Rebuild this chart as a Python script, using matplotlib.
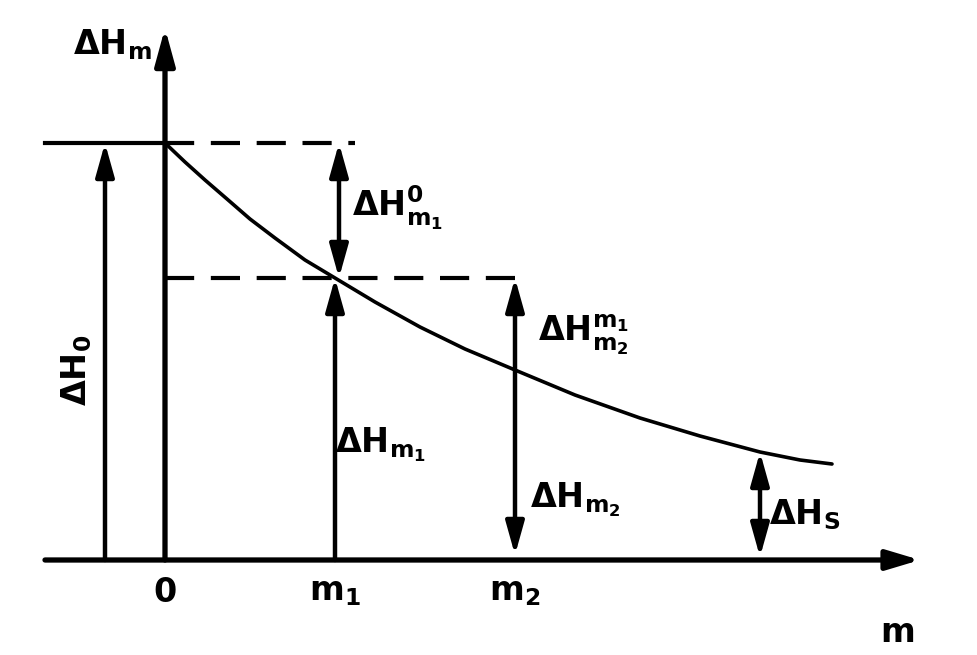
import matplotlib
matplotlib.use("Agg")
import matplotlib.pyplot as plt

# ---- data (relative units: origin at the axes crossing) ----
m_labels = ['0', r'$\mathbf{m_1}$', r'$\mathbf{m_2}$']
m_positions = [0, 170, 350]
s_position = 595
dH0 = 417
dHm1 = 282
dHm2 = 190
dHs = 108
curve_m = [0, 20, 40, 62, 85, 110, 140, 170, 210, 255, 300, 350, 410, 475, 535, 595, 635, 667]
curve_dH = [417, 398, 380, 361, 341, 322, 300, 282, 258, 233, 211, 190, 165, 142, 124, 108, 100, 96]

plt.rcParams['lines.scale_dashes'] = False
plt.rcParams['mathtext.fontset'] = 'dejavusans'

fig = plt.figure(figsize=(9.77, 6.55), dpi=100)
ax = fig.add_axes([0, 0, 1, 1])
ax.set_xlim(-165, 812)
ax.set_ylim(-95, 560)
ax.axis('off')

K = 'black'

def arrow(x0, y0, x1, y1, style='-|>', lw=3.2, hl=1.0, hw=0.28):
    ax.annotate('', xy=(x1, y1), xytext=(x0, y0),
                arrowprops=dict(arrowstyle=f'{style},head_length={hl},head_width={hw}',
                                lw=lw, color=K, shrinkA=0, shrinkB=0,
                                mutation_scale=20))

# axes
arrow(-120, 0, 755, 0, lw=3.8, hl=1.0, hw=0.3)
arrow(0, 0, 0, 532, lw=3.8, hl=1.1, hw=0.3)

# horizontal reference lines
ax.plot([-120, 0], [dH0, dH0], color=K, lw=3)
ax.plot([0, 190], [dH0, dH0], color=K, lw=3, dashes=(21, 12))
ax.plot([0, m_positions[2]], [dHm1, dHm1], color=K, lw=3, dashes=(21, 12))

# curve
ax.plot(curve_m, curve_dH, color=K, lw=2.6, solid_joinstyle='round',
        solid_capstyle='round')

# vertical dimension arrows
arrow(-60, 0, -60, dH0)
arrow(m_positions[1] + 4, dHm1, m_positions[1] + 4, dH0, style='<|-|>')
arrow(m_positions[1], 0, m_positions[1], dHm1)
arrow(m_positions[2], 5, m_positions[2], dHm1, style='<|-|>')
arrow(s_position, dHs, s_position, 3, style='<|-|>')

fs = 24
tk = dict(color=K, ha='center', va='center', fontsize=fs)
ax.text(-53, 515, r'$\mathbf{\Delta H_{m}}$', **tk)
ax.text(-88, 190, r'$\mathbf{\Delta H_{0}}$', rotation=90, **tk)
ax.text(232, 352, r'$\mathbf{\Delta H_{m_1}^{0}}$', **tk)
ax.text(418, 225, r'$\mathbf{\Delta H_{m_2}^{m_1}}$', **tk)
ax.text(215, 115, r'$\mathbf{\Delta H_{m_1}}$', **tk)
ax.text(410, 60, r'$\mathbf{\Delta H_{m_2}}$', **tk)
ax.text(640, 45, r'$\mathbf{\Delta H_{S}}$', **tk)

for pos, lab in zip(m_positions, m_labels):
    ax.text(pos, -32, lab, color=K, ha='center', va='center', fontsize=fs,
            fontweight='bold')
ax.text(732, -72, r'$\mathbf{m}$', **tk)

fig.savefig('out.png', dpi=100, facecolor='white')
